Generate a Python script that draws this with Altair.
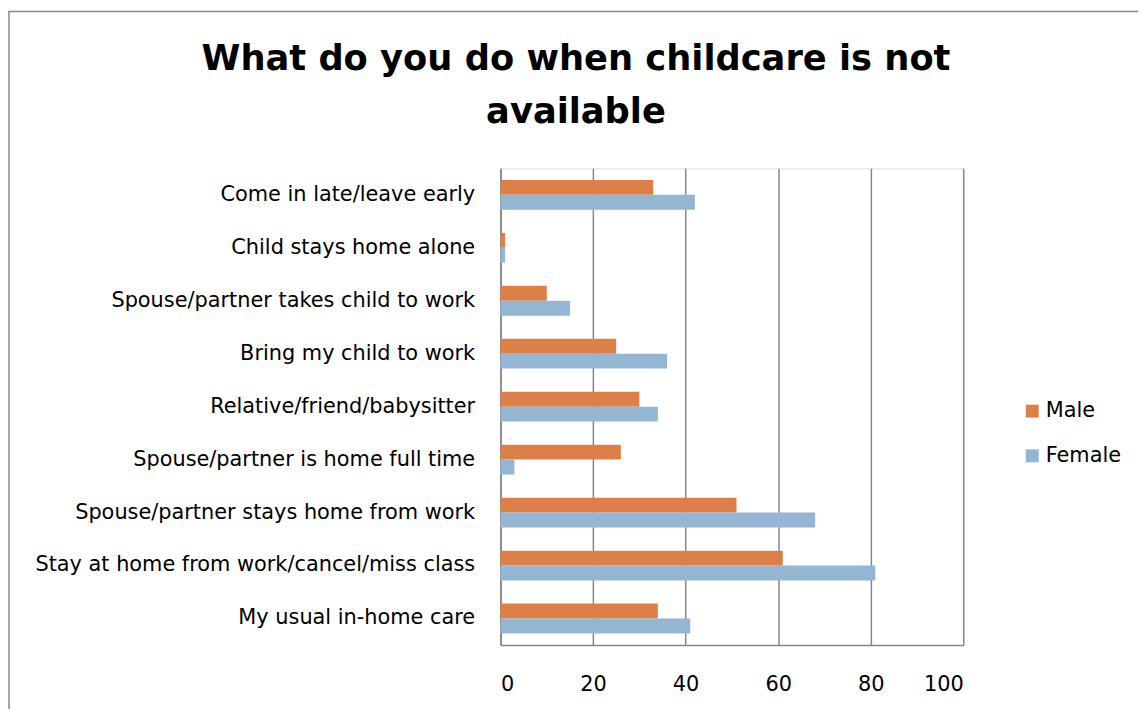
import altair as alt
import pandas as pd

categories = [
    "Come in late/leave early",
    "Child stays home alone",
    "Spouse/partner takes child to work",
    "Bring my child to work",
    "Relative/friend/babysitter",
    "Spouse/partner is home full time",
    "Spouse/partner stays home from work",
    "Stay at home from work/cancel/miss class",
    "My usual in-home care",
]
male = [33, 1, 10, 25, 30, 26, 51, 61, 34]
female = [42, 1, 15, 36, 34, 3, 68, 81, 41]
series = ["Male", "Female"]
colors = ["#DD8047", "#94B6D2"]
ticks = [0, 20, 40, 60, 80, 100]

rows = []
for c, m, f in zip(categories, male, female):
    rows.append({"category": c, "series": "Male", "value": m})
    rows.append({"category": c, "series": "Female", "value": f})
df = pd.DataFrame(rows)

FONT = "DejaVu Sans"
GRID = "#878787"

bars = alt.Chart(df).mark_bar().encode(
    y=alt.Y(
        "category:N",
        sort=categories,
        title=None,
        scale=alt.Scale(paddingInner=0.4375, paddingOuter=0.21875),
        axis=alt.Axis(
            labelFontSize=21, labelFont=FONT, labelColor="black",
            labelPadding=26, ticks=False, domainColor=GRID, domainWidth=1.5,
            grid=False, labelLimit=600,
        ),
    ),
    yOffset=alt.YOffset("series:N", sort=series,
                        scale=alt.Scale(paddingInner=0, paddingOuter=0)),
    x=alt.X(
        "value:Q",
        title=None,
        scale=alt.Scale(domain=[0, 100]),
        axis=alt.Axis(
            values=ticks, labelFontSize=21, labelFont=FONT, labelColor="black",
            labelPadding=29, ticks=False, domainColor=GRID, domainWidth=1.5,
            grid=True, gridColor=GRID, gridWidth=1.5,
        ),
    ),
    color=alt.Color(
        "series:N",
        sort=series,
        scale=alt.Scale(domain=series, range=colors),
        legend=alt.Legend(
            title=None, orient="none", legendX=525, legendY=234,
            symbolType="square", symbolSize=169, symbolStrokeWidth=0,
            labelFontSize=21, labelFont=FONT, labelColor="black",
            labelOffset=3, rowPadding=23, padding=0,
        ),
    ),
)

frame = alt.Chart(pd.DataFrame({"k": [0]})).mark_rect(
    fillOpacity=0, stroke=GRID, strokeWidth=1.5
).encode(
    x=alt.value(-495), x2=alt.value(800),
    y=alt.value(-158), y2=alt.value(700),
)

chart = alt.layer(frame, bars).properties(
    width=466,
    height=480,
    padding={"left": 496, "top": 159, "right": 176, "bottom": 62},
    autosize=alt.AutoSizeParams(type="none"),
    title=alt.Title(
        ["What do you do when childcare is not", "available"],
        fontSize=35.5, fontWeight="bold", font=FONT, color="black",
        anchor="middle", frame="group", offset=0, lineHeight=54,
        dx=-157, dy=121,
    ),
).configure_view(stroke=None).configure(background="white")

chart.save("out.html", embed_options={"renderer": "svg", "actions": False})
